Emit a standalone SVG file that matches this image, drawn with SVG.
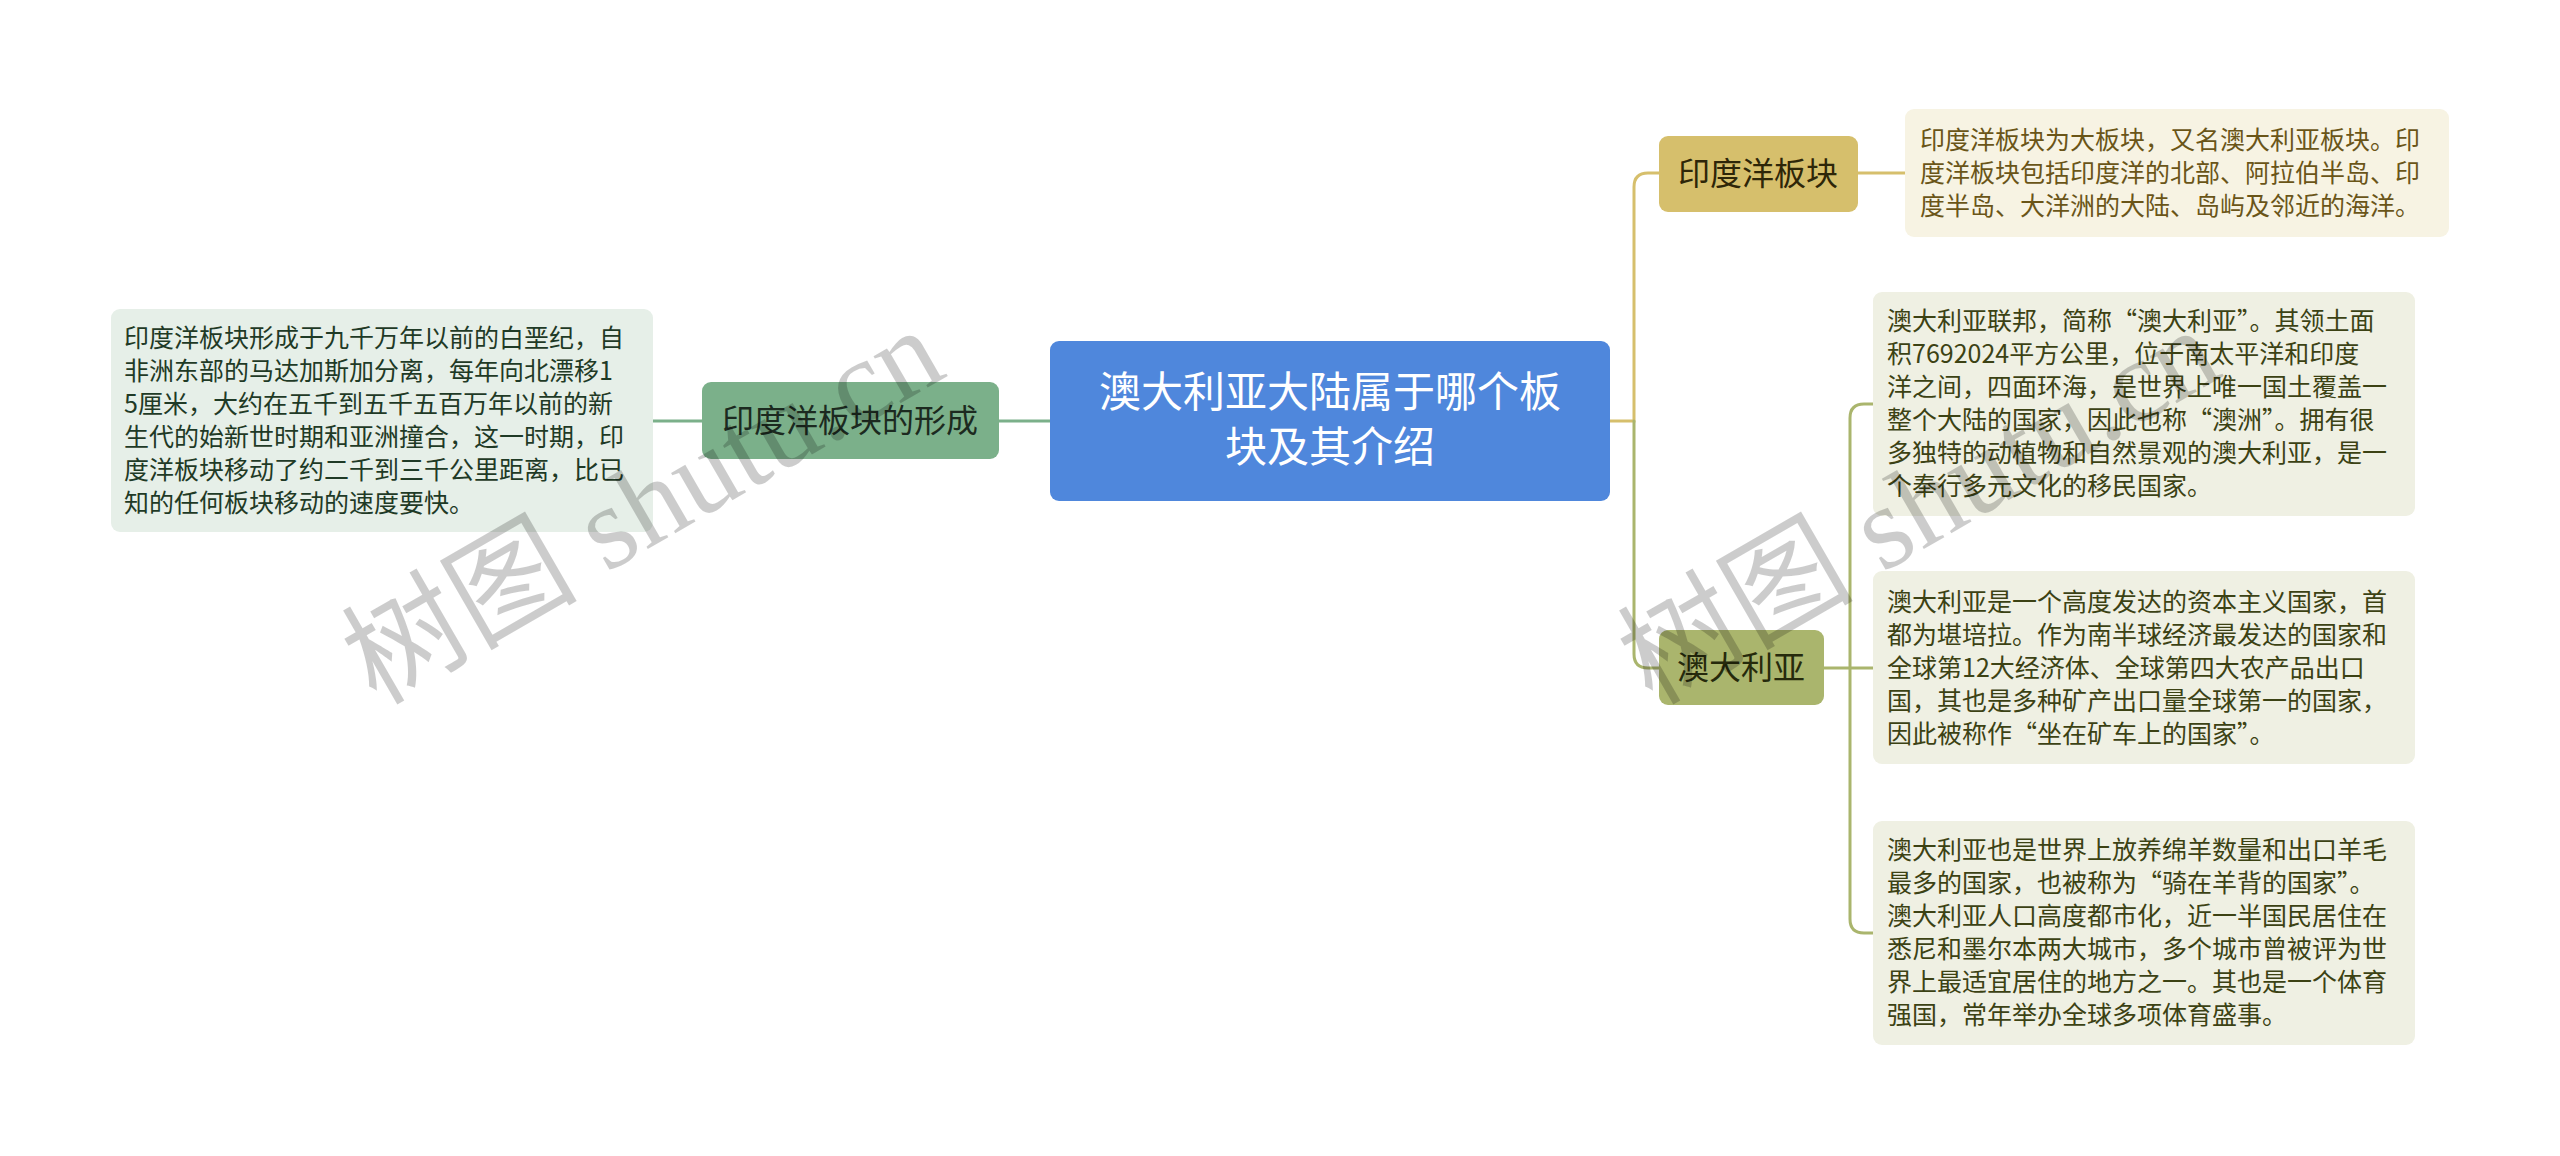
<svg xmlns="http://www.w3.org/2000/svg" width="2560" height="1156" viewBox="0 0 2560 1156">
<style>
text{font-family:"Noto Sans CJK SC","Liberation Sans",sans-serif;}
.leaf{font-size:25px;}
.lbl{font-size:32px;text-anchor:middle;}
.conn{fill:none;stroke-width:3;stroke-linecap:round;}
.wm{font-family:"Liberation Serif","Noto Sans CJK SC",serif;font-size:118px;fill:#000;fill-opacity:0.2;}
</style>
<rect width="2560" height="1156" fill="#ffffff"/>
<g id="connectors">
<path class="conn" stroke="#7bb08a" d="M1050 421 H999"/>
<path class="conn" stroke="#7bb08a" d="M702 421 H653"/>
<path class="conn" stroke="#d6bf6c" d="M1610 421 H1634 V187 Q1634 173 1648 173 H1659"/>
<path class="conn" stroke="#d6bf6c" d="M1858 173 H1905"/>
<path class="conn" stroke="#aab56d" d="M1634 421 V654 Q1634 668 1648 668 H1659"/>
<path class="conn" stroke="#aab56d" d="M1824 668 H1873"/>
<path class="conn" stroke="#aab56d" d="M1873 404 H1864 Q1850 404 1850 418 V919 Q1850 933 1864 933 H1873"/>
</g>
<g id="center">
<rect x="1050" y="341" width="560" height="160" rx="9" fill="#4f87dc"/>
<text x="1330" y="407" font-size="42" fill="#ffffff" text-anchor="middle">澳大利亚大陆属于哪个板</text>
<text x="1330" y="462" font-size="42" fill="#ffffff" text-anchor="middle">块及其介绍</text>
</g>
<g id="node-formation">
<rect x="702" y="382" width="297" height="77" rx="9" fill="#7bb08a"/>
<text class="lbl" x="850" y="432" fill="#1c2a20">印度洋板块的形成</text>
</g>
<g id="leaf-formation">
<rect x="111" y="309" width="542" height="223" rx="9" fill="#e6efe8"/>
<g class="leaf" fill="#1f3a26">
<text x="124" y="347">印度洋板块形成于九千万年以前的白垩纪，自</text>
<text x="124" y="380">非洲东部的马达加斯加分离，每年向北漂移1</text>
<text x="124" y="413">5厘米，大约在五千到五千五百万年以前的新</text>
<text x="124" y="446">生代的始新世时期和亚洲撞合，这一时期，印</text>
<text x="124" y="479">度洋板块移动了约二千到三千公里距离，比已</text>
<text x="124" y="512">知的任何板块移动的速度要快。</text>
</g>
</g>
<g id="node-plate">
<rect x="1659" y="136" width="199" height="76" rx="9" fill="#d6bf6c"/>
<text class="lbl" x="1758" y="185" fill="#2e2608">印度洋板块</text>
</g>
<g id="leaf-plate">
<rect x="1905" y="109" width="544" height="128" rx="9" fill="#f7f3e3"/>
<g class="leaf" fill="#6a5518">
<text x="1920" y="149">印度洋板块为大板块，又名澳大利亚板块。印</text>
<text x="1920" y="182">度洋板块包括印度洋的北部、阿拉伯半岛、印</text>
<text x="1920" y="215">度半岛、大洋洲的大陆、岛屿及邻近的海洋。</text>
</g>
</g>
<g id="node-australia">
<rect x="1659" y="630" width="165" height="75" rx="9" fill="#aab56d"/>
<text class="lbl" x="1741" y="679" fill="#262a0c">澳大利亚</text>
</g>
<g id="leaf-a">
<rect x="1873" y="292" width="542" height="224" rx="9" fill="#eff0e3"/>
<g class="leaf" fill="#3c4214">
<text x="1887" y="330">澳大利亚联邦，简称“澳大利亚”。其领土面</text>
<text x="1887" y="363">积7692024平方公里，位于南太平洋和印度</text>
<text x="1887" y="396">洋之间，四面环海，是世界上唯一国土覆盖一</text>
<text x="1887" y="429">整个大陆的国家，因此也称“澳洲”。拥有很</text>
<text x="1887" y="462">多独特的动植物和自然景观的澳大利亚，是一</text>
<text x="1887" y="495">个奉行多元文化的移民国家。</text>
</g>
</g>
<g id="leaf-b">
<rect x="1873" y="571" width="542" height="193" rx="9" fill="#eff0e3"/>
<g class="leaf" fill="#3c4214">
<text x="1887" y="611">澳大利亚是一个高度发达的资本主义国家，首</text>
<text x="1887" y="644">都为堪培拉。作为南半球经济最发达的国家和</text>
<text x="1887" y="677">全球第12大经济体、全球第四大农产品出口</text>
<text x="1887" y="710">国，其也是多种矿产出口量全球第一的国家，</text>
<text x="1887" y="743">因此被称作“坐在矿车上的国家”。</text>
</g>
</g>
<g id="leaf-c">
<rect x="1873" y="821" width="542" height="224" rx="9" fill="#eff0e3"/>
<g class="leaf" fill="#3c4214">
<text x="1887" y="859">澳大利亚也是世界上放养绵羊数量和出口羊毛</text>
<text x="1887" y="892">最多的国家，也被称为“骑在羊背的国家”。</text>
<text x="1887" y="925">澳大利亚人口高度都市化，近一半国民居住在</text>
<text x="1887" y="958">悉尼和墨尔本两大城市，多个城市曾被评为世</text>
<text x="1887" y="991">界上最适宜居住的地方之一。其也是一个体育</text>
<text x="1887" y="1024">强国，常年举办全球多项体育盛事。</text>
</g>
</g>
<g id="watermark">
<text class="wm" transform="translate(376 706) rotate(-30)">树图 shutu.cn</text>
<text class="wm" transform="translate(1652 706) rotate(-30)">树图 shutu.cn</text>
</g>
</svg>
